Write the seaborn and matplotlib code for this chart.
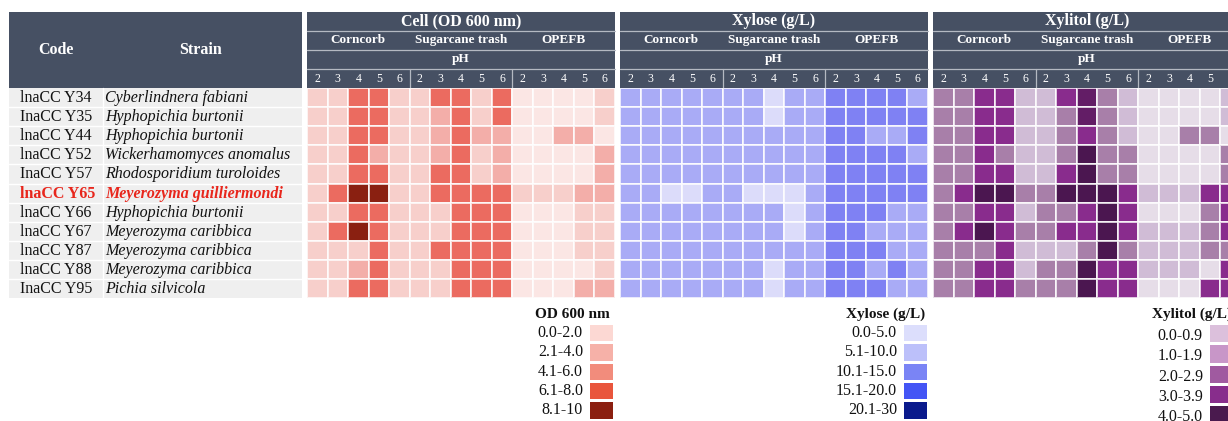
import numpy as np
import pandas as pd
import seaborn as sns
import matplotlib
matplotlib.use("Agg")
import matplotlib.pyplot as plt
from matplotlib.colors import ListedColormap, BoundaryNorm
from matplotlib.patches import Rectangle

# ---------------------------------------------------------------- data
codes = ["lnaCC Y34", "InaCC Y35", "lnaCC Y44", "lnaCC Y52", "InaCC Y57", "lnaCC Y65",
         "lnaCC Y66", "lnaCC Y67", "lnaCC Y87", "lnaCC Y88", "InaCC Y95"]
strains = ["Cyberlindnera fabiani", "Hyphopichia burtonii", "Hyphopichia burtonii",
           "Wickerhamomyces anomalus", "Rhodosporidium turoloides", "Meyerozyma guilliermondi",
           "Hyphopichia burtonii", "Meyerozyma caribbica", "Meyerozyma caribbica",
           "Meyerozyma caribbica", "Pichia silvicola"]
highlight = "lnaCC Y65"

substrates = ["Corncorb", "Sugarcane trash", "OPEFB"]
ph_levels = [2, 3, 4, 5, 6]

# Cell growth (OD 600 nm); columns = Corncorb pH2-6, Sugarcane trash pH2-6, OPEFB pH2-6
od600 = [
    [3.0, 3.0, 7.0, 7.0, 3.0, 3.0, 7.0, 7.0, 3.0, 7.0, 1.5, 1.5, 1.5, 1.5, 3.0],
    [3.0, 3.0, 7.0, 7.0, 3.0, 3.0, 5.0, 7.0, 3.0, 7.0, 1.5, 1.5, 1.5, 1.5, 3.0],
    [3.0, 3.0, 7.0, 7.0, 3.0, 3.0, 5.0, 7.0, 5.0, 5.0, 1.5, 1.5, 5.0, 5.0, 1.5],
    [3.0, 3.0, 7.0, 5.0, 3.0, 3.0, 5.0, 7.0, 3.0, 5.0, 1.5, 1.5, 1.5, 1.5, 5.0],
    [3.0, 3.0, 7.0, 7.0, 3.0, 3.0, 7.0, 7.0, 3.0, 5.0, 1.5, 1.5, 1.5, 1.5, 5.0],
    [3.0, 7.0, 9.0, 9.0, 3.0, 3.0, 7.0, 7.0, 7.0, 7.0, 3.0, 3.0, 3.0, 5.0, 5.0],
    [3.0, 3.0, 7.0, 7.0, 3.0, 3.0, 3.0, 7.0, 7.0, 7.0, 1.5, 1.5, 1.5, 3.0, 3.0],
    [3.0, 7.0, 9.0, 7.0, 3.0, 3.0, 3.0, 7.0, 7.0, 7.0, 1.5, 1.5, 1.5, 3.0, 3.0],
    [3.0, 3.0, 3.0, 7.0, 3.0, 3.0, 7.0, 7.0, 7.0, 7.0, 1.5, 1.5, 1.5, 3.0, 3.0],
    [3.0, 3.0, 5.0, 7.0, 3.0, 3.0, 3.0, 7.0, 7.0, 7.0, 1.5, 1.5, 1.5, 1.5, 3.0],
    [3.0, 3.0, 7.0, 7.0, 3.0, 3.0, 3.0, 7.0, 7.0, 7.0, 1.5, 1.5, 1.5, 5.0, 5.0],
]

# Residual xylose (g/L)
xylose = [
    [8.0, 8.0, 8.0, 8.0, 8.0, 8.0, 8.0, 3.0, 8.0, 8.0, 12.5, 12.5, 12.5, 12.5, 8.0],
    [8.0, 8.0, 8.0, 8.0, 8.0, 8.0, 8.0, 3.0, 8.0, 8.0, 12.5, 12.5, 12.5, 12.5, 12.5],
    [8.0, 8.0, 8.0, 8.0, 8.0, 8.0, 8.0, 8.0, 8.0, 8.0, 12.5, 12.5, 8.0, 8.0, 12.5],
    [8.0, 8.0, 8.0, 8.0, 8.0, 8.0, 8.0, 8.0, 8.0, 8.0, 12.5, 12.5, 12.5, 12.5, 8.0],
    [8.0, 8.0, 8.0, 8.0, 8.0, 8.0, 8.0, 8.0, 8.0, 8.0, 12.5, 12.5, 12.5, 12.5, 12.5],
    [8.0, 8.0, 3.0, 3.0, 8.0, 8.0, 3.0, 3.0, 3.0, 8.0, 12.5, 12.5, 12.5, 12.5, 12.5],
    [8.0, 8.0, 8.0, 8.0, 8.0, 8.0, 8.0, 8.0, 3.0, 8.0, 12.5, 12.5, 12.5, 8.0, 8.0],
    [8.0, 8.0, 8.0, 8.0, 8.0, 8.0, 8.0, 8.0, 3.0, 8.0, 12.5, 12.5, 8.0, 8.0, 8.0],
    [8.0, 8.0, 8.0, 8.0, 8.0, 8.0, 8.0, 8.0, 8.0, 8.0, 12.5, 12.5, 12.5, 8.0, 8.0],
    [8.0, 8.0, 8.0, 8.0, 8.0, 8.0, 8.0, 3.0, 8.0, 8.0, 12.5, 12.5, 8.0, 12.5, 8.0],
    [8.0, 8.0, 8.0, 8.0, 8.0, 8.0, 8.0, 3.0, 8.0, 8.0, 12.5, 12.5, 12.5, 8.0, 8.0],
]

# Xylitol produced (g/L)
xylitol = [
    [2.5, 2.5, 3.5, 3.5, 1.5, 1.5, 3.5, 4.2, 2.5, 1.5, 0.5, 0.5, 0.5, 0.5, 1.5],
    [2.5, 2.5, 3.5, 3.5, 1.5, 1.5, 2.5, 4.2, 2.5, 1.5, 0.5, 0.5, 0.5, 0.5, 1.5],
    [2.5, 2.5, 3.5, 3.5, 1.5, 1.5, 2.5, 3.5, 2.5, 1.5, 0.5, 0.5, 2.5, 2.5, 0.5],
    [2.5, 2.5, 3.5, 2.5, 1.5, 1.5, 2.5, 4.7, 2.5, 2.5, 0.5, 0.5, 0.5, 0.5, 2.5],
    [2.5, 2.5, 3.5, 3.5, 1.5, 1.5, 3.5, 4.7, 2.5, 2.5, 0.5, 0.5, 0.5, 0.5, 2.5],
    [2.5, 3.5, 4.7, 4.7, 2.5, 2.5, 4.7, 4.7, 4.7, 3.5, 1.5, 1.5, 1.5, 3.5, 3.5],
    [2.5, 2.5, 3.5, 3.5, 1.5, 2.5, 2.5, 3.5, 4.7, 3.5, 0.5, 0.5, 0.5, 2.5, 3.5],
    [2.5, 3.5, 4.7, 3.5, 2.5, 2.5, 3.5, 3.5, 4.7, 3.5, 1.5, 1.5, 1.5, 2.5, 3.5],
    [2.5, 2.5, 2.5, 3.5, 1.5, 1.5, 1.5, 2.5, 4.7, 2.5, 1.5, 1.5, 1.5, 2.5, 2.5],
    [2.5, 2.5, 3.5, 3.5, 1.5, 2.5, 2.5, 4.7, 3.5, 3.5, 1.5, 1.5, 1.5, 0.5, 3.5],
    [2.5, 2.5, 3.5, 3.5, 2.5, 2.5, 2.5, 4.7, 3.5, 3.5, 0.5, 0.5, 0.5, 3.5, 3.5],
]

# Legend classes
od_bins = ["0.0-2.0", "2.1-4.0", "4.1-6.0", "6.1-8.0", "8.1-10"]
xylose_bins = ["0.0-5.0", "5.1-10.0", "10.1-15.0", "15.1-20.0", "20.1-30"]
xylitol_bins = ["0.0-0.9", "1.0-1.9", "2.0-2.9", "3.0-3.9", "4.0-5.0"]

# ---------------------------------------------------------------- styling
sns.set_theme(style="white")
plt.rcParams["font.family"] = ["Liberation Serif", "DejaVu Serif"]

HEAD = "#465063"
RULE = "#b4b9c2"
ROWBG = "#efefef"
RED = "#e8261c"

blocks = [
    dict(title="Cell (OD 600 nm)", data=od600,
         bounds=[0, 2.05, 4.05, 6.05, 8.05, 10],
         cells=["#fbe6e4", "#f7cfcb", "#f3aea9", "#eb6b60", "#8a2011"],
         key_title="OD 600 nm", key_bins=od_bins, key_x=588, key_h=19.3, key_dy=0.5,
         key_colors=["#fcd8d3", "#f6b1a8", "#f28c7c", "#e9553c", "#8b1f10"]),
    dict(title="Xylose (g/L)", data=xylose,
         bounds=[0, 5.05, 10.05, 15.05, 20.05, 30],
         cells=["#dcdcfa", "#a9abf6", "#7f81f3", "#4455f5", "#0a1a8c"],
         key_title="Xylose (g/L)", key_bins=xylose_bins, key_x=902, key_h=19.3, key_dy=0.5,
         key_colors=["#dcdefc", "#bcc0fa", "#7a84f5", "#4455f5", "#0a1a8c"]),
    dict(title="Xylitol (g/L)", data=xylitol,
         bounds=[0, 0.95, 1.95, 2.95, 3.95, 4.45, 5.0],
         cells=["#e6dde8", "#d0bcd6", "#a87fa9", "#892c8d", "#631d66", "#4b1650"],
         key_title="Xylitol (g/L)", key_bins=xylitol_bins, key_x=1208, key_h=20.3, key_dy=3.0,
         key_colors=["#dcc0dc", "#c896c8", "#a05aa0", "#882d8c", "#4a1a4e"]),
]

W, H = 1228, 421
fig = plt.figure(figsize=(W / 100, H / 100), dpi=100)


def box(x0, y0, w, h):
    return [x0 / W, 1 - (y0 + h) / H, w / W, h / H]


# Overlay axis in pixel units for the table frame and headers
bg = fig.add_axes([0, 0, 1, 1])
bg.set_xlim(0, W)
bg.set_ylim(H, 0)
bg.axis("off")

HEAD_TOP, HEAD_BOT = 12, 87.5
ROW_TOP, ROW_H = 88, 19.1
n_rows = len(codes)
ROW_BOT = ROW_TOP + n_rows * ROW_H
BLOCK_X = [307, 620, 933]
BLOCK_W = 308
n_cols = len(substrates) * len(ph_levels)
col_w = BLOCK_W / n_cols

# Left table: header and rows
bg.add_patch(Rectangle((9, HEAD_TOP), 293, HEAD_BOT - HEAD_TOP, color=HEAD, lw=0))
bg.text(56, 50, "Code", color="white", fontsize=11.5, fontweight="bold", ha="center", va="center")
bg.text(201, 50, "Strain", color="white", fontsize=11.5, fontweight="bold", ha="center", va="center")
bg.add_patch(Rectangle((9, ROW_TOP), 293, ROW_BOT - ROW_TOP, color=ROWBG, lw=0))
for i in range(1, n_rows):
    bg.plot([9, 302], [ROW_TOP + i * ROW_H] * 2, color="white", lw=1.0)
bg.plot([103, 103], [ROW_TOP, ROW_BOT], color="white", lw=1.0)
for i, (c, s) in enumerate(zip(codes, strains)):
    yc = ROW_TOP + (i + 0.5) * ROW_H + 0.5
    hl = c == highlight
    kw = dict(fontsize=11.5, va="center", ha="left",
              color=RED if hl else "#111111", fontweight="bold" if hl else "normal")
    bg.text(20, yc, c, **kw)
    bg.text(105, yc, s, style="italic", **kw)

# Heatmap blocks with their headers
for bx, b in zip(BLOCK_X, blocks):
    # header
    bg.add_patch(Rectangle((bx, HEAD_TOP), BLOCK_W, HEAD_BOT - HEAD_TOP, color=HEAD, lw=0))
    for yy in (30.5, 49.5, 68.5):
        bg.plot([bx, bx + BLOCK_W], [yy, yy], color=RULE, lw=0.9)
    for k in (1, 2):
        xx = bx + k * len(ph_levels) * col_w
        bg.plot([xx, xx], [68.5, HEAD_BOT], color=RULE, lw=0.9)
    bg.text(bx + BLOCK_W / 2, 21, b["title"], color="white", fontsize=11.5,
            fontweight="bold", ha="center", va="center")
    for k, sub in enumerate(substrates):
        xc = bx + (k * len(ph_levels) + len(ph_levels) / 2) * col_w
        bg.text(xc, 40, sub, color="white", fontsize=9.5, fontweight="bold",
                ha="center", va="center")
        for j, ph in enumerate(ph_levels):
            bg.text(bx + (k * len(ph_levels) + j + 0.5) * col_w, 78.5, str(ph),
                    color="white", fontsize=8.5, ha="center", va="center")
    bg.text(bx + BLOCK_W / 2, 59, "pH", color="white", fontsize=9.5,
            fontweight="bold", ha="center", va="center")

    # cells
    cols = pd.MultiIndex.from_product([substrates, ph_levels])
    df = pd.DataFrame(b["data"], index=codes, columns=cols)
    ax = fig.add_axes(box(bx, ROW_TOP, BLOCK_W, ROW_BOT - ROW_TOP))
    cmap = ListedColormap(b["cells"])
    norm = BoundaryNorm(b["bounds"], cmap.N)
    sns.heatmap(df, ax=ax, cmap=cmap, norm=norm, cbar=False,
                linewidths=1.1, linecolor=(1, 1, 1, 0.75),
                xticklabels=False, yticklabels=False)
    ax.set_xlabel("")
    ax.set_ylabel("")

# Colour keys below the blocks
KEY_TOP, KEY_W = 323, 26
for b in blocks:
    kx, kh, dy = b["key_x"], b["key_h"], b["key_dy"]
    n = len(b["key_bins"])
    kax = fig.add_axes(box(kx, KEY_TOP, KEY_W, kh * n))
    key_df = pd.DataFrame({"bin": np.arange(n)}, index=b["key_bins"])
    sns.heatmap(key_df, ax=kax, cmap=ListedColormap(b["key_colors"]), vmin=-0.5,
                vmax=n - 0.5, cbar=False, linewidths=1.0, linecolor="white",
                xticklabels=False, yticklabels=False)
    kax.set_xlabel("")
    kax.set_ylabel("")
    for i, lab in enumerate(b["key_bins"]):
        bg.text(kx - 5, KEY_TOP + (i + 0.5) * kh + dy, lab, fontsize=11.5,
                ha="right", va="center", color="#111111")
    bg.text(kx - 16, 314, b["key_title"], fontsize=11, fontweight="bold",
            ha="center", va="center", color="#111111")

fig.savefig("out.png", dpi=100, facecolor="white")
